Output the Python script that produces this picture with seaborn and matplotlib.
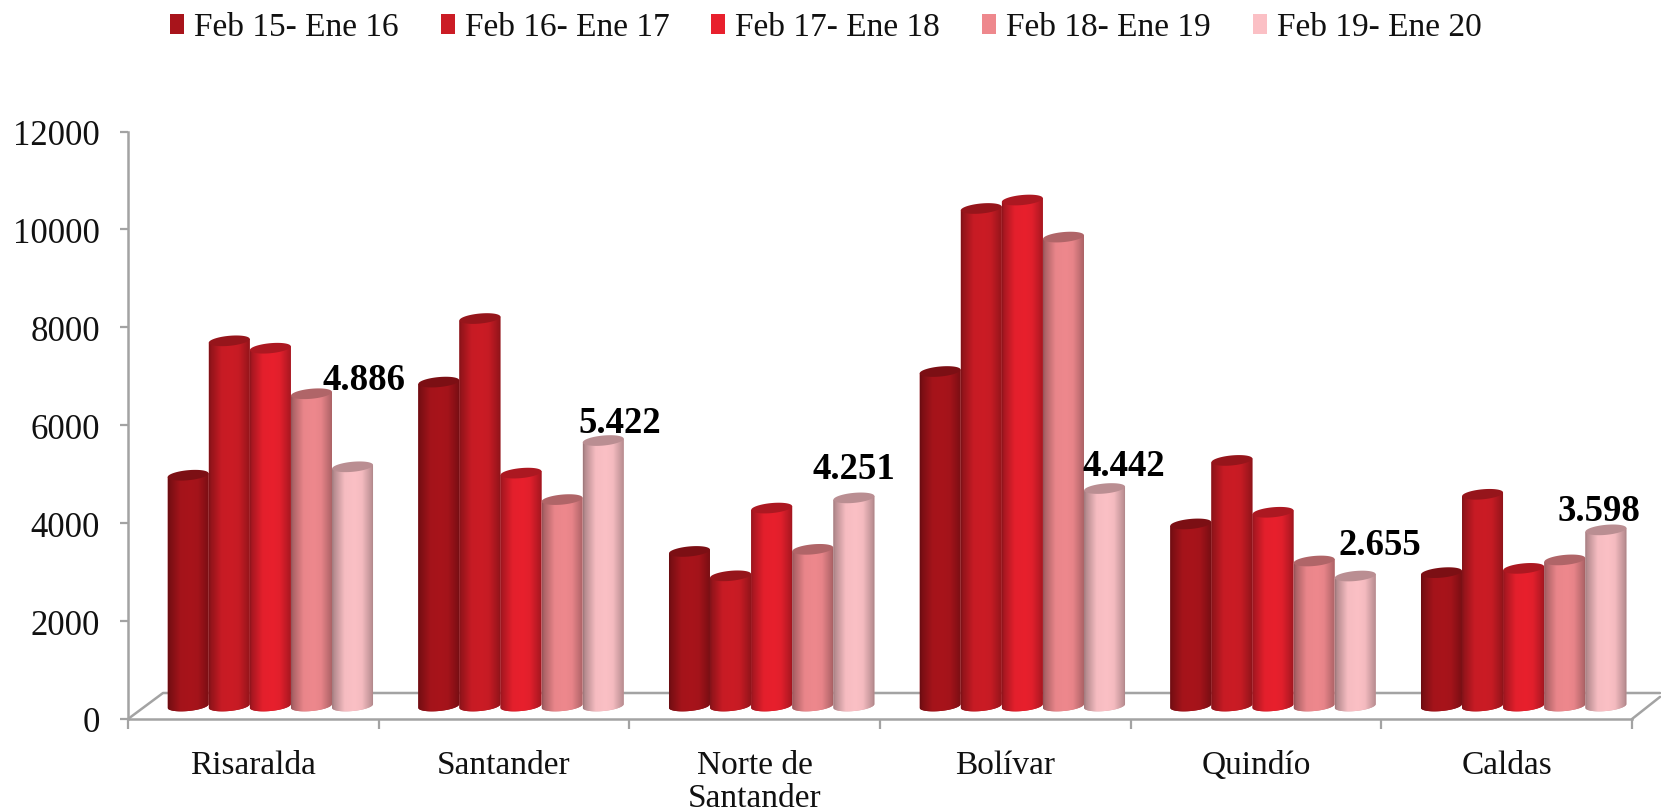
import numpy as np
import pandas as pd
import matplotlib
matplotlib.use("Agg")
import matplotlib.pyplot as plt
from matplotlib.patches import Polygon, Patch
import seaborn as sns

categories = ["Risaralda", "Santander", "Norte de\nSantander", "Bolívar", "Quindío", "Caldas"]
periods = ["Feb 15- Ene 16", "Feb 16- Ene 17", "Feb 17- Ene 18", "Feb 18- Ene 19", "Feb 19- Ene 20"]
feb15 = [4714, 6616, 3157, 6832, 3719, 2724]
feb16 = [7459, 7914, 2659, 10162, 5016, 4324]
feb17 = [7308, 4757, 4043, 10335, 3957, 2811]
feb18 = [6378, 4216, 3200, 9578, 2962, 2984]
feb19 = [4886, 5422, 4251, 4442, 2655, 3598]
colors = ["#a8141b", "#cb1c25", "#e8202d", "#ee888d", "#fbc0c5"]
label_offsets = [(11, 82), (16, 17), (0, 28), (18, 22), (23, 30), (-7, 18)]

W, H = 1661, 812
sns.set_theme(style="white")
plt.rcParams["font.family"] = ["Liberation Serif", "DejaVu Serif"]
GRAY = "#a3a3a3"
TXT = "#111111"
FS = 24.5

df = pd.DataFrame({"cat": categories * 5,
                   "period": np.repeat(periods, 6),
                   "value": feb15 + feb16 + feb17 + feb18 + feb19})

fig = plt.figure(figsize=(W / 100, H / 100), dpi=100)
L, R, T, B = 128, 1632, 132.5, 720
ax = fig.add_axes([L / W, 1 - B / H, (R - L) / W, (B - T) / H])
dx, dy = 17, 13
px_x = (R - L) / 6.0
px_y = (B - T) / 12000.0
pad_px = 14  # room under the zero line for the rounded bar bottoms
bar_ax = fig.add_axes([(L + dx) / W, 1 - (B - dy + pad_px) / H, (R - L) / W, (B - T + pad_px) / H])
bar_ax.patch.set_alpha(0)
bar_ax.set_axis_off()
ymin = -pad_px / px_y

# axes frame
ax.set_xlim(-0.5, 5.5)
ax.set_ylim(0, 12000)
ax.set_yticks(range(0, 12001, 2000))
ax.set_xticks(np.arange(-0.5, 6, 1))
ax.set_xticklabels([])
ax.set_xticks(np.arange(0, 6), categories, minor=True)
ax.tick_params(axis="x", which="major", length=7.5, width=1.6, color=GRAY, bottom=True)
ax.tick_params(axis="x", which="minor", length=0, labelsize=FS - 0.5, labelcolor=TXT, pad=22, bottom=True)
ax.tick_params(axis="y", length=6, width=1.6, color=GRAY, left=True, labelsize=FS + 0.5, labelcolor=TXT, pad=14)
for lab in ax.get_xticklabels(minor=True):
    lab.set_linespacing(1.12)
for s in ("top", "right"):
    ax.spines[s].set_visible(False)
for s in ("left", "bottom"):
    ax.spines[s].set_color(GRAY)
    ax.spines[s].set_linewidth(1.8)

# floor of the 3D box
ox, oy = 35 / (R - L), 26 / (B - T)
ax.plot([0, ox, 1 + ox * 0.8], [0, oy, oy], transform=ax.transAxes, color=GRAY, lw=1.8, clip_on=False, zorder=1)
ax.plot([1, 1 + ox * 0.8], [0, oy * 0.85], transform=ax.transAxes, color=GRAY, lw=1.8, clip_on=False, zorder=1)

sns.barplot(data=df, x="cat", y="value", hue="period", order=categories, hue_order=periods,
            palette=colors, width=0.82, gap=0, dodge=True, errorbar=None, ax=bar_ax, legend=False,
            linewidth=0, saturation=1)
bar_ax.set_xlim(-0.5, 5.5)
bar_ax.set_ylim(ymin, 12000)

tilt = np.deg2rad(5.5)
ry = 5.0
prof_t = [0, .04, .3, .55, .72, .96, 1]
prof_v = [.62, .72, .98, 1.0, .97, .74, .64]
tt = np.linspace(0, 1, 96)
shade = np.interp(tt, prof_t, prof_v)


def ell(cx, cy, rx, a):
    ex = rx * np.cos(a) * np.cos(tilt) - ry * np.sin(a) * np.sin(tilt)
    ey = rx * np.cos(a) * np.sin(tilt) + ry * np.sin(a) * np.cos(tilt)
    return np.column_stack([cx + ex / px_x, cy + ey / px_y])


n = len(categories)
bars = [b for b in bar_ax.patches if b.get_width() > 0]
for i, b in enumerate(bars):
    s = i // n
    rgb = np.array(matplotlib.colors.to_rgb(colors[s]))
    b.set_visible(False)
    x0, w, h = b.get_x(), b.get_width(), b.get_height()
    cx = x0 + w / 2
    rx = w * px_x / 2
    z = 3 + s * 0.1
    body = np.vstack([ell(cx, h, rx, np.array([np.pi])),
                      ell(cx, 0, rx, np.linspace(np.pi, 2 * np.pi, 40)),
                      ell(cx, h, rx, np.array([0.0]))])
    poly = Polygon(body, closed=True, fc=rgb * 0.85, ec="none", zorder=z)
    bar_ax.add_patch(poly)
    grad = (rgb[None, :] * shade[:, None])[None, :, :]
    im = bar_ax.imshow(grad, extent=[x0, x0 + w, ymin, h + 60 / px_y], aspect="auto",
                       origin="lower", zorder=z + 0.01, interpolation="bilinear")
    im.set_clip_path(poly)
    bar_ax.add_patch(Polygon(ell(cx, h, rx, np.linspace(0, 2 * np.pi, 60)), closed=True,
                             fc=rgb * 0.74, ec="none", zorder=z + 0.02))
bar_ax.set_xlim(-0.5, 5.5)
bar_ax.set_ylim(ymin, 12000)

# data labels on the last series
for j in range(n):
    b = bars[4 * n + j]
    ox_, oy_ = label_offsets[j]
    bar_ax.annotate(f"{feb19[j] / 1000:.3f}", (b.get_x() + b.get_width() / 2, b.get_height()),
                    xytext=(ox_ * 1.059 * 0.72, oy_ * 1.059 * 0.72), textcoords="offset points",
                    ha="center", va="center", fontsize=26.5, fontweight="bold", color="black",
                    zorder=10, annotation_clip=False)

handles = [Patch(fc=c, ec="none") for c in colors]
fig.legend(handles, periods, ncol=5, loc="upper left", bbox_to_anchor=(170 / W, 1 - 13 / H),
           frameon=False, fontsize=24, labelcolor=TXT, handlelength=0.42, handleheight=0.55,
           handletextpad=0.3, columnspacing=1.26, borderaxespad=0, borderpad=0)

fig.savefig("out.png", dpi=100, facecolor="white")
